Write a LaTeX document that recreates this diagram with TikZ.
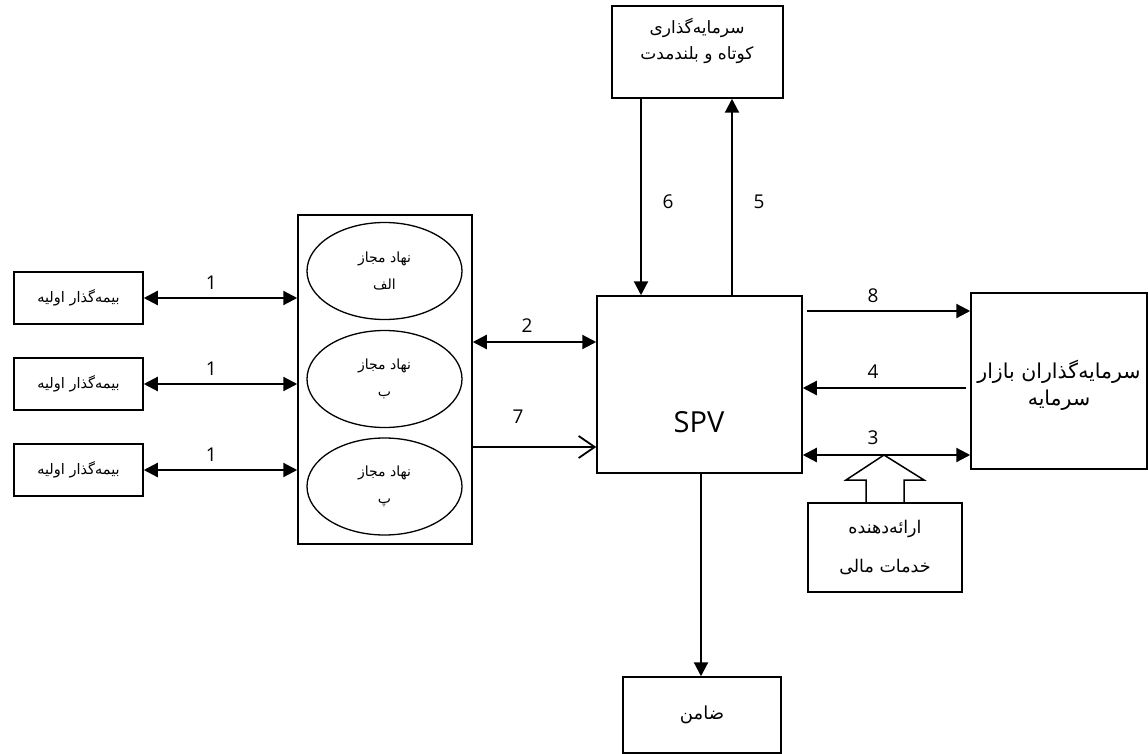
\documentclass[tikz,border=0pt]{standalone}
\usepackage{fontspec}
\usetikzlibrary{arrows.meta,calc,shapes.geometric}
\TeXXeTstate=1
\newfontfamily\arabicfont[Script=Arabic]{DejaVu Sans}
\newfontfamily\numfont{Open Sans}
\newcommand{\fa}[1]{\arabicfont\beginR #1\endR}
\begin{document}
\begin{tikzpicture}[x=1pt,y=-1pt,
  box/.style={draw,line width=1.5pt,fill=white,inner sep=0pt,align=center},
  oval/.style={draw,ellipse,line width=1.3pt,inner sep=0pt,minimum width=155pt,minimum height=97pt},
  flow/.style={line width=2.2pt,-{Triangle[length=14pt,width=14pt]}},
  both/.style={line width=2.2pt,{Triangle[length=14pt,width=14pt]}-{Triangle[length=14pt,width=14pt]}},
  num/.style={font=\numfont\fontsize{19}{22}\selectfont,inner sep=0pt},
  fatext/.style={inner sep=0pt,align=center}]
\useasboundingbox (0,0) rectangle (1148,754);

% insurers on the left
\foreach \i/\y in {1/298,2/384,3/470}{
  \node[box,minimum width=129pt,minimum height=52pt,font=\arabicfont\fontsize{14.5}{16}\selectfont] (ins\i) at (78.5,\y) {\fa{بیمه‌گذار اولیه}};
}

% licensed entities
\node[box,minimum width=174pt,minimum height=329pt] (ent) at (385,379.5) {};
\node[oval] (e1) at (384.5,271) {};
\node[oval] (e2) at (384.5,379) {};
\node[oval] (e3) at (384.5,486.5) {};
\node[fatext,font=\arabicfont\fontsize{14}{27}\selectfont] (t1) at (e1) {\fa{نهاد مجاز}\\\fa{الف}};
\node[fatext,font=\arabicfont\fontsize{14}{27}\selectfont] (t2) at (e2) {\fa{نهاد مجاز}\\\fa{ب}};
\node[fatext,font=\arabicfont\fontsize{14}{27}\selectfont] (t3) at (e3) {\fa{نهاد مجاز}\\\fa{پ}};

% SPV
\node[box,minimum width=205pt,minimum height=177pt] (spv) at (699.5,384.5) {};
\node[num,font=\numfont\fontsize{29}{34}\selectfont] (spvt) at (699,422) {SPV};

% short and long term investment
\node[box,minimum width=171pt,minimum height=92pt] (inv) at (697.5,52) {};
\node[fatext,font=\arabicfont\fontsize{17}{26}\selectfont] (invt) at (697,41) {\fa{سرمایه‌گذاری}\\\fa{کوتاه و بلندمدت}};

% capital market investors
\node[box,minimum width=176pt,minimum height=176pt] (cap) at (1059,381) {};
\node[fatext,font=\arabicfont\fontsize{20.5}{27}\selectfont] (capt) at (1059,385) {\fa{سرمایه‌گذاران بازار}\\\fa{سرمایه}};

% financial service provider with block arrow
\node[box,minimum width=154pt,minimum height=89pt] (prov) at (885,547.5) {};
\node[fatext,font=\arabicfont\fontsize{17.5}{39}\selectfont] (provt) at (885,547.5) {\fa{ارائه‌دهنده}\\\fa{خدمات مالی}};
\coordinate (tip) at (884,455);
\fill[white] ([xshift=-19pt,yshift=1pt]prov.north) -- ([xshift=-19pt]prov.north |- 0,480) -- ([xshift=-39pt]prov.north |- 0,480) -- (tip) -- ([xshift=39pt]prov.north |- 0,480) -- ([xshift=19pt]prov.north |- 0,480) -- ([xshift=19pt,yshift=1pt]prov.north) -- cycle;
\draw[line width=1.5pt,line join=miter] ([xshift=-19pt]prov.north) -- ([xshift=-19pt]prov.north |- 0,480) -- ([xshift=-39pt]prov.north |- 0,480) -- (tip) -- ([xshift=39pt]prov.north |- 0,480) -- ([xshift=19pt]prov.north |- 0,480) -- ([xshift=19pt]prov.north);

% guarantor
\node[box,minimum width=158pt,minimum height=76pt,font=\arabicfont\fontsize{18}{20}\selectfont] (guar) at (702,715) {\fa{ضامن}};

% connectors
\foreach \i in {1,2,3}{
  \draw[both] (ins\i.east) -- (ent.west |- ins\i.east);
  \node[num] (l\i) at ($(ins\i.east)!0.44!(ent.west |- ins\i.east)+(0,-15)$) {1};
}
\draw[both] (ent.east |- 0,342) -- (spv.west |- 0,342);
\node[num] (l2) at (527,326) {2};
\draw[line width=2pt,-{Straight Barb[length=16pt,width=22pt,line width=1.8pt]}] (ent.east |- 0,447) -- (spv.west |- 0,447);
\node[num] (l7) at (518,417) {7};

\draw[flow] (inv.south -| 641,0) -- (spv.north -| 641,0);
\node[num] (l6) at (668,202) {6};
\draw[flow] (spv.north -| 732,0) -- (inv.south -| 732,0);
\node[num] (l5) at (759,202) {5};

\draw[flow] ([xshift=4pt]spv.east |- 0,311) -- (cap.west |- 0,311);
\node[num] (l8) at (873,296) {8};
\draw[flow] ([xshift=-4pt]cap.west |- 0,388) -- (spv.east |- 0,388);
\node[num] (l4) at (873,372) {4};
\draw[both] (spv.east |- 0,455) -- (cap.west |- 0,455);
\node[num] (l3) at (873,438) {3};

\draw[flow] (spv.south -| 701,0) -- (guar.north -| 701,0);
\end{tikzpicture}
\end{document}
